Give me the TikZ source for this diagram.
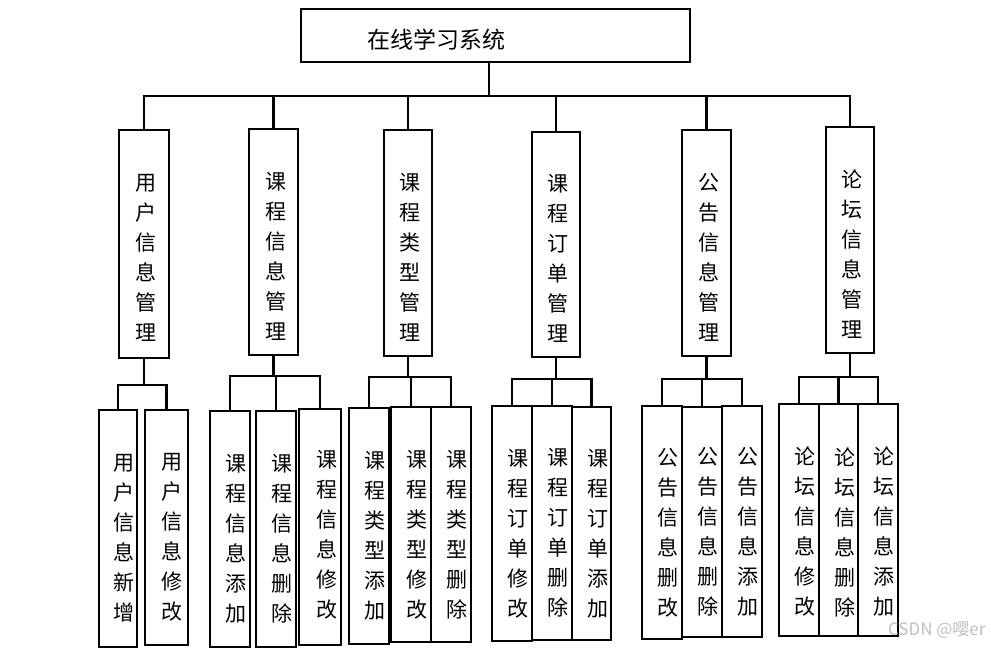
\documentclass[tikz,border=0pt]{standalone}
\usepackage{fontspec}
\usepackage{tikz}
\newfontfamily\cjk{Noto Sans CJK SC}
\usetikzlibrary{positioning}

\begin{document}
\begin{tikzpicture}[
    x=1pt, y=-1pt,
    box/.style={draw=black, line width=2.1pt, inner sep=0pt},
    vtext/.style={font=\cjk\fontsize{21}{30}\selectfont, align=center, inner sep=0pt},
    link/.style={line width=2.1pt, black}
]
    \useasboundingbox (0,0) rectangle (991,648);

    % Root
    \node[box, minimum width=389pt, minimum height=53pt] (top) at (495.5,35.5) {};
    \node[font=\cjk\fontsize{23}{26}\selectfont] at (436,40) {在线学习系统};

    % Modules
    \node[box, minimum width=50pt, minimum height=228pt] (m1) at (144,244) {};
    \node[vtext] at ([shift={(2,14)}]m1.center) {用\\户\\信\\息\\管\\理};
    \node[box, minimum width=49pt, minimum height=226pt] (m2) at (273.5,242) {};
    \node[vtext] at ([shift={(2,14)}]m2.center) {课\\程\\信\\息\\管\\理};
    \node[box, minimum width=48pt, minimum height=226pt] (m3) at (408,243) {};
    \node[vtext] at ([shift={(2,14)}]m3.center) {课\\程\\类\\型\\管\\理};
    \node[box, minimum width=48pt, minimum height=225pt] (m4) at (556,244.5) {};
    \node[vtext] at ([shift={(2,14)}]m4.center) {课\\程\\订\\单\\管\\理};
    \node[box, minimum width=49pt, minimum height=226pt] (m5) at (706.5,243) {};
    \node[vtext] at ([shift={(2,14)}]m5.center) {公\\告\\信\\息\\管\\理};
    \node[box, minimum width=48pt, minimum height=226pt] (m6) at (850,240) {};
    \node[vtext] at ([shift={(2,14)}]m6.center) {论\\坛\\信\\息\\管\\理};

    % Root to modules
    \coordinate (bus) at (489,96);
    \draw[link] (top.south -| bus) -- (bus);
    \draw[link] (m1.north) |- (bus) -| (m6.north);
    \foreach \m in {m2,m3,m4,m5}
        \draw[link] (\m.north) -- (\m.north |- bus);

    % Leaves of user module
    \node[box, minimum width=38pt, minimum height=237pt] (l11) at (118,528.5) {};
    \node[vtext] at ([shift={(6,10)}]l11.center) {用\\户\\信\\息\\新\\增};
    \node[box, minimum width=43pt, minimum height=235pt] (l12) at (166.5,527.5) {};
    \node[vtext] at ([shift={(5,10)}]l12.center) {用\\户\\信\\息\\修\\改};

    % Leaves of course info module
    \node[box, minimum width=40pt, minimum height=236pt] (l21) at (230,529) {};
    \node[vtext] at ([shift={(6,10)}]l21.center) {课\\程\\信\\息\\添\\加};
    \node[box, minimum width=40pt, minimum height=236pt] (l22) at (276,529) {};
    \node[vtext] at ([shift={(6,10)}]l22.center) {课\\程\\信\\息\\删\\除};
    \node[box, minimum width=42pt, minimum height=236pt] (l23) at (320,527) {};
    \node[vtext] at ([shift={(7,8)}]l23.center) {课\\程\\信\\息\\修\\改};

    % Leaves of course type module
    \node[box, minimum width=40pt, minimum height=236pt] (l31) at (369,526) {};
    \node[vtext] at ([shift={(6,10)}]l31.center) {课\\程\\类\\型\\添\\加};
    \node[box, minimum width=40pt, minimum height=235pt] (l32) at (411,524.5) {};
    \node[vtext] at ([shift={(6,10)}]l32.center) {课\\程\\类\\型\\修\\改};
    \node[box, minimum width=40pt, minimum height=235pt] (l33) at (451,524.5) {};
    \node[vtext] at ([shift={(6,10)}]l33.center) {课\\程\\类\\型\\删\\除};

    % Leaves of course order module
    \node[box, minimum width=40pt, minimum height=235pt] (l41) at (512,523.5) {};
    \node[vtext] at ([shift={(6,10)}]l41.center) {课\\程\\订\\单\\修\\改};
    \node[box, minimum width=40pt, minimum height=234pt] (l42) at (552,523) {};
    \node[vtext] at ([shift={(6,10)}]l42.center) {课\\程\\订\\单\\删\\除};
    \node[box, minimum width=39pt, minimum height=233pt] (l43) at (591.5,523.5) {};
    \node[vtext] at ([shift={(6,10)}]l43.center) {课\\程\\订\\单\\添\\加};

    % Leaves of notice module
    \node[box, minimum width=40pt, minimum height=233pt] (l51) at (662,522.5) {};
    \node[vtext] at ([shift={(6,10)}]l51.center) {公\\告\\信\\息\\删\\改};
    \node[box, minimum width=40pt, minimum height=230pt] (l52) at (702,522) {};
    \node[vtext] at ([shift={(6,10)}]l52.center) {公\\告\\信\\息\\删\\除};
    \node[box, minimum width=40pt, minimum height=231pt] (l53) at (742,521.5) {};
    \node[vtext] at ([shift={(6,10)}]l53.center) {公\\告\\信\\息\\添\\加};

    % Leaves of forum module
    \node[box, minimum width=40pt, minimum height=232pt] (l61) at (799,520) {};
    \node[vtext] at ([shift={(6,12)}]l61.center) {论\\坛\\信\\息\\修\\改};
    \node[box, minimum width=39pt, minimum height=232pt] (l62) at (838.5,520) {};
    \node[vtext] at ([shift={(6,12)}]l62.center) {论\\坛\\信\\息\\删\\除};
    \node[box, minimum width=40pt, minimum height=232pt] (l63) at (878,520) {};
    \node[vtext] at ([shift={(6,12)}]l63.center) {论\\坛\\信\\息\\添\\加};

    % Module to leaves
    \coordinate (j1) at (144,385);
    \coordinate (j2) at (276,376);
    \coordinate (j3) at (411,377);
    \coordinate (j4) at (555,379);
    \coordinate (j5) at (707,379);
    \coordinate (j6) at (842,377);
    \foreach \m/\j in {m1/j1,m2/j2,m3/j3,m4/j4,m5/j5,m6/j6}
        \draw[link] (\m.south) -- (\m.south |- \j);
    \draw[link] (l11.north) |- (j1) -| (l12.north);
    \foreach \g in {2,...,6} {
        \draw[link] (l\g1.north) |- (j\g) -| (l\g3.north);
        \draw[link] (l\g2.north |- j\g) -- (l\g2.north);
    }

    % Watermark
    \node[font=\cjk\fontsize{17}{19}\selectfont, text=black!25, anchor=east] (mark) at (989,630) {CSDN @嘤er};
\end{tikzpicture}
\end{document}
